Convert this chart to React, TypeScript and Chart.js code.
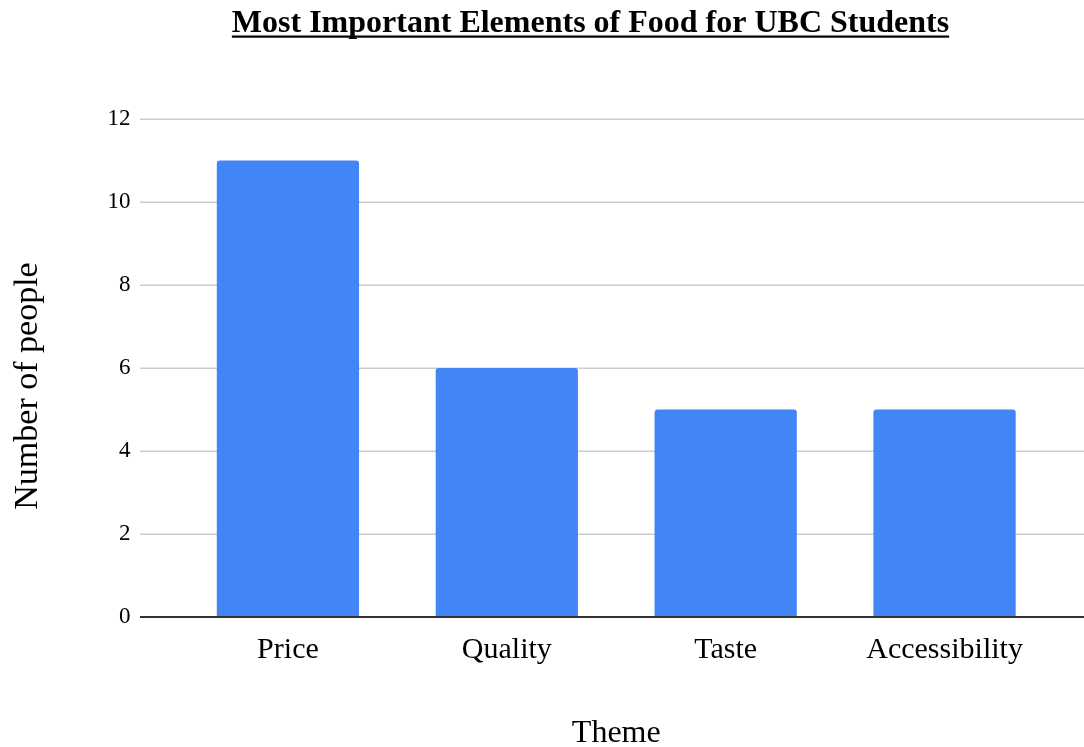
import React, { useEffect, useRef } from "react";
import { Chart, registerables } from "chart.js";

Chart.register(...registerables);

const TITLE = "Most Important Elements of Food for UBC Students";
const categories = ["Price", "Quality", "Taste", "Accessibility"];
const counts = [11, 6, 5, 5];
const yTicks = [0, 2, 4, 6, 8, 10, 12];
const xAxisTitle = "Theme";
const yAxisTitle = "Number of people";

const SERIF = "'Liberation Serif', 'Times New Roman', serif";

const decorPlugin = {
  id: "decor",
  beforeDatasetsDraw(chart: any) {
    const { ctx } = chart;
    const y = chart.scales.y;
    ctx.save();
    ctx.strokeStyle = "#cccccc";
    ctx.lineWidth = 1.5;
    y.ticks.forEach((t: any) => {
      if (t.value === 0) return;
      const py = Math.round(y.getPixelForValue(t.value)) + 0.25;
      ctx.beginPath();
      ctx.moveTo(140, py);
      ctx.lineTo(1084, py);
      ctx.stroke();
    });
    ctx.restore();
  },
  afterDatasetsDraw(chart: any) {
    const { ctx } = chart;
    const y = chart.scales.y;
    ctx.save();
    ctx.strokeStyle = "#333333";
    ctx.lineWidth = 2;
    const py = y.getPixelForValue(0);
    ctx.beginPath();
    ctx.moveTo(140, py);
    ctx.lineTo(1084, py);
    ctx.stroke();
    ctx.restore();
  },
  afterDraw(chart: any) {
    const { ctx } = chart;
    ctx.save();
    ctx.font = `bold 32px ${SERIF}`;
    ctx.fillStyle = "#000000";
    ctx.textAlign = "center";
    ctx.textBaseline = "alphabetic";
    const cx = 590.5;
    ctx.fillText(TITLE, cx, 32);
    const w = ctx.measureText(TITLE).width;
    ctx.fillRect(cx - w / 2, 35.5, w, 2.2);
    // vertical axis title
    ctx.translate(28, 386);
    ctx.rotate(-Math.PI / 2);
    ctx.font = `34px ${SERIF}`;
    ctx.textBaseline = "middle";
    ctx.fillText(yAxisTitle, 0, 0);
    ctx.restore();
  },
};

export default function App() {
  const ref = useRef<HTMLCanvasElement>(null);

  useEffect(() => {
    if (!ref.current) return;
    const chart = new Chart(ref.current, {
      type: "bar",
      data: {
        labels: categories,
        datasets: [
          {
            label: yAxisTitle,
            data: counts,
            backgroundColor: "#4285F4",
            borderWidth: 0,
            borderRadius: 3,
            barPercentage: 0.65,
            categoryPercentage: 1,
          },
        ],
      },
      options: {
        responsive: false,
        animation: false,
        layout: { padding: { top: 119, left: 0, right: 30, bottom: 0 } },
        plugins: {
          legend: { display: false },
          title: { display: false },
          tooltip: { enabled: false },
        },
        scales: {
          x: {
            grid: { display: false, drawTicks: false },
            border: { display: false },
            ticks: {
              color: "#000000",
              font: { family: SERIF, size: 30 },
              padding: 15,
              maxRotation: 0,
            },
            title: {
              display: true,
              text: xAxisTitle,
              color: "#000000",
              font: { family: SERIF, size: 32, lineHeight: 1 },
              padding: { top: 0, bottom: -3 },
            },
            afterFit: (scale: any) => {
              scale.height = 130;
            },
          },
          y: {
            min: 0,
            max: 12,
            afterBuildTicks: (scale: any) => {
              scale.ticks = yTicks.map((v) => ({ value: v }));
            },
            grid: { display: false, drawTicks: false },
            border: { display: false },
            ticks: {
              color: "#000000",
              font: { family: SERIF, size: 23 },
              padding: 48,
            },
            title: { display: false },
            afterFit: (scale: any) => {
              scale.width = 178.5;
            },
          },
        },
      },
      plugins: [decorPlugin],
    });
    return () => chart.destroy();
  }, []);

  return (
    <div style={{ position: "absolute", left: 0, top: 0, width: 1084, height: 747, background: "#fff" }}>
      <canvas ref={ref} width={1084} height={747} />
    </div>
  );
}
